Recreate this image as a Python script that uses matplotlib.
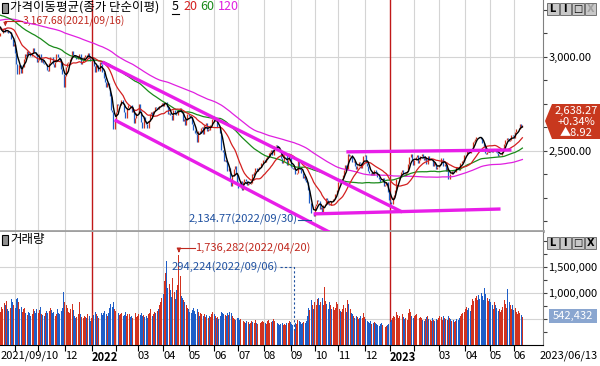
import numpy as np
import pandas as pd
import matplotlib
matplotlib.use('Agg')
import matplotlib.pyplot as plt
from matplotlib.patches import Rectangle, Polygon

plt.rcParams['font.family'] = ['Noto Sans CJK KR', 'DejaVu Sans']

# KRX market holidays in the charted range
holidays = ['2021-09-20', '2021-09-21', '2021-09-22', '2021-10-04', '2021-10-11', '2021-12-31',
            '2022-01-31', '2022-02-01', '2022-02-02', '2022-03-01', '2022-03-09', '2022-05-05',
            '2022-06-01', '2022-06-06', '2022-08-15', '2022-09-09', '2022-09-12', '2022-10-03',
            '2022-10-10', '2022-12-30', '2023-01-23', '2023-01-24', '2023-03-01', '2023-05-01',
            '2023-05-05', '2023-05-29', '2023-06-06']

# closes before the first visible day (moving-average warm-up)
pre_close = [3004, 2996, 2995, 3041, 3036, 3070, 3061,
             3087, 3112, 3120, 3127, 3137, 3143, 3131, 3135, 3169, 3182, 3194, 3198, 3198, 3220, 3171,
             3177, 3186, 3217, 3215, 3181, 3174, 3147,
             3127, 3147, 3178, 3197, 3249, 3209, 3161, 3122, 3153, 3134, 3173, 3162, 3156, 3144, 3163,
             3165, 3165, 3188, 3203,
             3221, 3224, 3247, 3240, 3252, 3247, 3216, 3224, 3249, 3252, 3258, 3278, 3264, 3267, 3240,
             3263, 3276, 3286, 3302, 3301, 3286, 3296,
             3282, 3281, 3293, 3305, 3285, 3252, 3217, 3246, 3271, 3264, 3286, 3276, 3245, 3232, 3216,
             3250, 3254, 3224, 3232, 3236, 3242, 3202,
             3223, 3237, 3280, 3276, 3270, 3260, 3243, 3220, 3208, 3171, 3143, 3158, 3097, 3060, 3090,
             3138, 3146, 3128, 3133, 3144, 3199,
             3207, 3175, 3201, 3203, 3187, 3162, 3114]

close = [
    # 2021-09 .. 2021-12
    3125.76, 3127.86, 3148.83, 3153.40, 3130.09, 3140.51, 3127.58, 3125.24, 3133.64, 3097.92, 3060.27, 3068.82,
    3019.18, 2962.17, 2908.31, 2959.46, 2956.30, 2916.38, 2944.41, 2988.64, 3015.06, 3006.68, 3029.04, 3013.13,
    3007.33, 3006.16, 3020.54, 3049.08, 3025.49, 3009.55, 2970.68,
    2983.22, 3013.49, 2975.71, 2983.29, 2969.27, 2960.20, 2963.00, 2930.17, 2924.92, 2968.80, 2999.52, 2997.21,
    2962.42, 2947.38, 2971.02, 3013.25, 2997.33, 2994.29, 2980.27, 2936.44, 2909.32, 2839.01,
    2899.72, 2945.27, 2968.33, 2973.25, 2991.72, 3001.80, 3029.57, 3010.23, 3001.66, 2987.95, 2989.39, 3006.41,
    3017.73, 2963.00, 2975.03, 2984.48, 2998.32, 3012.43, 2999.55, 3020.24, 2993.29, 2977.65,
    # 2022-01 .. 2022-06
    2988.77, 2989.24, 2953.97, 2920.53, 2954.89, 2926.72, 2927.38, 2972.48, 2962.09, 2921.92, 2890.10, 2864.24,
    2842.28, 2862.68, 2834.29, 2792.00, 2720.39, 2709.24, 2614.49, 2663.34,
    2707.82, 2750.26, 2745.06, 2746.47, 2768.85, 2771.93, 2747.71, 2704.48, 2676.54, 2729.68, 2744.09, 2744.52,
    2743.80, 2706.79, 2719.53, 2648.80, 2676.76, 2699.18,
    2703.52, 2747.08, 2713.43, 2651.31, 2622.40, 2680.32, 2661.28, 2645.65, 2621.53, 2659.23, 2694.51, 2707.02,
    2686.05, 2710.00, 2735.05, 2729.66, 2729.98, 2722.60, 2741.07, 2746.74, 2757.65,
    2739.85, 2757.90, 2759.20, 2735.03, 2695.86, 2700.39, 2693.10, 2666.76, 2716.49, 2716.71, 2696.06, 2693.21,
    2718.69, 2718.89, 2728.21, 2704.71, 2657.13, 2668.31, 2639.06, 2667.49, 2695.05,
    2687.45, 2680.46, 2677.57, 2644.51, 2610.81, 2596.56, 2592.27, 2550.08, 2604.24, 2596.58, 2620.44, 2625.98,
    2592.34, 2639.29, 2647.38, 2605.87, 2617.22, 2612.45, 2638.05, 2669.66, 2685.90,
    2658.99, 2670.65, 2626.15, 2626.34, 2625.44, 2595.87, 2504.51, 2492.97, 2447.38, 2451.41, 2440.93, 2391.03,
    2408.93, 2342.81, 2314.32, 2366.60, 2401.92, 2422.09, 2377.99, 2332.64,
    # 2022-07 .. 2022-12
    2305.42, 2300.34, 2341.78, 2292.01, 2334.27, 2350.61, 2340.27, 2317.76, 2328.61, 2322.32, 2330.98, 2375.25,
    2370.60, 2386.85, 2409.16, 2393.14, 2403.69, 2412.90, 2415.53, 2435.27, 2451.50,
    2452.25, 2439.62, 2461.45, 2473.11, 2490.80, 2493.10, 2503.46, 2480.88, 2523.78, 2527.94, 2533.52, 2516.47,
    2508.05, 2492.69, 2462.50, 2435.34, 2447.45, 2477.26, 2481.03, 2426.89, 2450.93, 2472.05,
    2415.61, 2409.41, 2403.68, 2410.02, 2376.46, 2384.28, 2449.54, 2411.42, 2401.83, 2382.78, 2355.66, 2367.85,
    2347.21, 2332.31, 2290.00, 2220.94, 2223.86, 2169.29, 2170.93, 2155.49,
    2209.38, 2215.22, 2237.86, 2232.84, 2192.07, 2202.47, 2162.87, 2212.55, 2219.71, 2249.95, 2237.44, 2218.09,
    2213.12, 2236.16, 2235.07, 2245.93, 2246.13, 2268.40, 2293.61,
    2335.22, 2336.86, 2329.17, 2348.80, 2371.79, 2399.04, 2424.41, 2402.86, 2483.16, 2474.65, 2480.33, 2477.45,
    2442.90, 2444.48, 2419.50, 2405.27, 2418.01, 2441.33, 2437.86, 2408.27, 2433.39, 2472.53,
    2479.84, 2434.33, 2419.32, 2393.16, 2382.81, 2371.08, 2389.04, 2372.40, 2399.25, 2389.04, 2361.82, 2360.02,
    2352.17, 2333.23, 2332.79, 2356.73, 2313.69, 2317.14, 2332.79, 2280.45, 2236.40,
    # 2023-01 .. 2023-06
    2225.67, 2218.68, 2255.98, 2264.65, 2289.97, 2350.19, 2351.31, 2359.88, 2365.10, 2386.09, 2399.86, 2379.39,
    2368.32, 2380.34, 2395.26, 2428.57, 2468.65, 2484.02, 2450.47, 2425.08,
    2449.80, 2468.88, 2480.40, 2438.19, 2451.71, 2470.65, 2481.52, 2469.49, 2452.70, 2465.64, 2427.90, 2475.48,
    2451.21, 2455.12, 2458.96, 2417.96, 2439.04, 2423.61, 2402.64, 2412.85,
    2424.21, 2432.07, 2462.64, 2463.35, 2419.09, 2431.91, 2394.59, 2410.60, 2348.97, 2379.72, 2377.91, 2395.69,
    2388.35, 2388.71, 2416.96, 2414.96, 2414.14, 2400.51, 2434.05, 2443.85, 2453.16, 2476.86,
    2479.39, 2500.74, 2495.56, 2490.41, 2490.40, 2512.08, 2547.86, 2550.64, 2561.66, 2571.49, 2575.91, 2575.08,
    2571.70, 2563.99, 2544.40, 2523.50, 2489.02, 2484.83, 2495.81, 2501.53,
    2500.94, 2500.65, 2495.81, 2509.06, 2510.06, 2496.81, 2491.00, 2475.42, 2479.35, 2480.24, 2494.66, 2515.42,
    2537.79, 2557.08, 2567.63, 2565.88, 2554.69, 2558.81, 2585.52, 2577.12,
    2569.23, 2601.36, 2615.41, 2615.60, 2615.79, 2641.16, 2629.35, 2638.27,
]

# volume in thousands of shares
volume = [
    640, 730, 700, 810, 760, 850, 690, 650, 720, 880, 830, 760,
    720, 880, 910, 820, 700, 740, 630, 690, 720, 610, 580, 640, 620, 560, 590, 690, 650, 620, 700,
    620, 680, 740, 600, 580, 560, 610, 650, 620, 660, 720, 680, 610, 640, 560, 590, 700, 620, 590, 660, 720, 1010,
    820, 760, 720, 640, 610, 700, 780, 680, 560, 520, 540, 600, 820, 590, 530, 510, 560, 540, 520, 600, 550, 470,
    520, 610, 580, 640, 600, 560, 520, 590, 610, 570, 620, 650, 600, 560, 610, 720, 790, 740, 820, 700,
    660, 650, 610, 570, 600, 620, 560, 580, 640, 560, 600, 590, 540, 560, 520, 680, 620, 540,
    560, 600, 570, 620, 560, 580, 540, 560, 520, 600, 620, 700, 560, 590, 640, 620, 660, 700, 760, 820, 900,
    980, 1240, 1380, 1620, 1100, 1180, 1060, 920, 1290, 1010, 880, 1060, 1150, 1736.282, 1320, 940, 900, 860,
    820, 760, 720,
    700, 640, 620, 680, 720, 660, 600, 700, 640, 560, 620, 590, 560, 600, 540, 580, 520, 560, 540, 600, 640,
    600, 560, 520, 540, 500, 560, 640, 620, 600, 580, 560, 620, 580, 640, 620, 560, 520, 500, 480, 520,
    520, 480, 500, 520, 460, 440, 420, 460, 440, 400, 420, 460, 440, 420, 480, 420, 400, 380, 420, 440, 460,
    440, 420, 400, 460, 480, 420, 440, 460, 500, 470, 440, 420, 400, 380, 400, 420, 390, 410, 380, 430, 420, 460,
    440, 410, 380, 294.224, 420, 400, 480, 460, 440, 400, 420, 450, 420, 460, 560, 720, 680, 860, 760, 700,
    820, 760, 880, 900, 760, 820, 900, 760, 1120, 840, 780, 700, 820, 760, 700, 740, 680, 720, 820,
    780, 700, 660, 640, 700, 760, 720, 640, 860, 780, 700, 620, 600, 560, 520, 560, 540, 500, 520, 560, 520, 620,
    540, 500, 460, 440, 420, 460, 400, 420, 440, 420, 400, 380, 360, 400, 420, 380, 360, 340, 360, 380, 400,
    440, 480, 520, 560, 540, 640, 580, 520, 560, 520, 600, 540, 500, 520, 480, 620, 700, 640, 560, 520,
    560, 580, 600, 620, 520, 540, 520, 480, 460, 500, 540, 560, 500, 480, 460, 520, 480, 460, 500, 480,
    520, 560, 540, 480, 560, 520, 500, 480, 560, 520, 500, 460, 480, 440, 460, 500, 480, 520, 560, 600, 620, 640,
    700, 740, 680, 720, 660, 760, 880, 840, 900, 940, 860, 960, 880, 1000, 940, 860, 1100, 980, 900, 840,
    880, 820, 760, 700, 820, 760, 720, 660, 700, 640, 680, 740, 860, 780, 720, 1080, 820, 760, 700, 760,
    680, 720, 640, 600, 660, 620, 580, 542.432,
]

ma_windows = [5, 20, 60, 120]
ma_colors = ['black', '#d42020', '#1a8a1a', '#e020e0']
high_mark = ('2021-09-16', 3167.68)
low_mark = ('2022-09-30', 2134.77)
trend_lines = [(('2022-01-14', 2973), ('2023-01-16', 2175)),
               (('2022-01-28', 2665), ('2022-10-21', 2068)),
               (('2022-11-10', 2495), ('2023-05-30', 2505)),
               (('2022-09-30', 2165), ('2023-05-16', 2191))]

dates = pd.bdate_range('2021-09-10', '2023-06-13')
dates = dates[~dates.isin(pd.to_datetime(holidays))]
n = len(close)
x = np.arange(n)
close_a = np.array(close)
vol = np.array(volume) * 1000
open_a = np.r_[pre_close[-1], close_a[:-1]]
up = close_a >= open_a
RED, BLUE = '#d2321e', '#1e5ec8'
cols = np.where(up, RED, BLUE)

full = pd.Series(list(pre_close) + close)
mas = [full.rolling(w).mean().values[-n:] for w in ma_windows]

def didx(d):
    return int(np.searchsorted(dates, pd.Timestamp(d)))

W, H = 600, 366
fig = plt.figure(figsize=(6, 3.66), dpi=100)
fig.patch.set_facecolor('white')
def fx(px): return px / W
def fy(py): return 1 - py / H

ax = fig.add_axes([0, fy(231), fx(543), fy(0) - fy(231)])
axv = fig.add_axes([0, fy(345), fx(543), fy(232) - fy(345)])

xl = (-0.4, 447)
month_idx = [i for i in range(1, n) if dates[i].month != dates[i - 1].month]
year_idx = [i for i in month_idx if dates[i].month == 1]

for a in (ax, axv):
    a.set_xlim(*xl)
    for m in month_idx:
        if m in year_idx:
            a.axvline(m, color='#c01818', lw=1.0, zorder=1)
        else:
            a.axvline(m, color='#d4d4d4', lw=0.8, zorder=0)
    a.spines['left'].set_visible(False)
    a.spines['top'].set_visible(False)
    a.spines['right'].set_color('#808080')
    a.yaxis.tick_right()
    a.tick_params(axis='y', direction='out', length=3, width=0.8, color='#404040',
                  labelsize=8, pad=1)

# price panel
ax.set_ylim(2074, 3303)
for g in (2500, 3000):
    ax.axhline(g, color='#d4d4d4', lw=0.8, zorder=0)
pt = np.arange(2125, 3300, 125)
ax.set_yticks(pt)
ax.set_yticklabels([f'{v:,.2f}' if v % 500 == 0 else '' for v in pt])
ax.set_xticks([])
ax.spines['bottom'].set_color('#a0a0a0')
ax.spines['bottom'].set_linewidth(2)

ax.vlines(x, open_a, close_a, colors=cols, lw=0.9, zorder=3)
for ma, c in zip(mas[::-1], ma_colors[::-1]):
    ax.plot(x, ma, color=c, lw=0.9 if c != 'black' else 1.0, zorder=4)
for (d0, p0), (d1, p1) in trend_lines:
    ax.plot([didx(d0), didx(d1)], [p0, p1], color='#e81ee8', lw=2.4,
            solid_capstyle='butt', zorder=5)

# high / low marks
hi_i, hi_v = didx(high_mark[0]), high_mark[1]
hi_lab = 3191
ax.plot([hi_i, hi_i + 14], [hi_lab, hi_lab], color='#c0281e', lw=0.8, zorder=6)
ax.annotate('', xy=(hi_i, hi_v - 4), xytext=(hi_i, hi_lab),
            arrowprops=dict(arrowstyle='-|>', color='#c0281e', lw=0.8, mutation_scale=5))
ax.text(hi_i + 14.5, hi_lab, f'{hi_v:,.2f}({high_mark[0].replace("-", "/")})', color='#c0281e',
        fontsize=7.5, va='center', ha='left')
lo_i, lo_v = didx(low_mark[0]), low_mark[1]
ax.plot([lo_i - 13, lo_i - 2], [lo_v, lo_v], color='#1e50a0', lw=0.8, zorder=6)
ax.text(lo_i - 13.5, lo_v, f'{lo_v:,.2f}({low_mark[0].replace("-", "/")})', color='#1e50a0',
        fontsize=8, va='center', ha='right')

# volume panel
axv.set_ylim(0, 2173000)
for g in (500000, 1000000, 1500000):
    axv.axhline(g, color='#d4d4d4', lw=0.8, zorder=0)
vt = np.arange(250000, 2173000, 250000)
axv.set_yticks(vt)
axv.set_yticklabels([f'{v:,}' if v in (1000000, 1500000) else '' for v in vt])
axv.bar(x, vol, width=0.8, color=cols, linewidth=0, zorder=3)
axv.spines['bottom'].set_color('black')

vmax_i = int(np.argmax(vol)); vmin_i = int(np.argmin(vol))
axv.plot([vmax_i, vmax_i + 13], [1865000, 1865000], color='#c0281e', lw=0.8, zorder=6)
axv.annotate('', xy=(vmax_i, vol[vmax_i] + 40000), xytext=(vmax_i, 1865000),
             arrowprops=dict(arrowstyle='-|>', color='#c0281e', lw=0.8, mutation_scale=6))
axv.text(vmax_i + 13.5, 1865000, f'{int(vol[vmax_i]):,}({dates[vmax_i]:%Y/%m/%d})',
         color='#c0281e', fontsize=8, va='center', ha='left')
axv.plot([vmin_i - 12, vmin_i, vmin_i], [1500000, 1500000, vol[vmin_i]], color='#1e50a0',
         lw=0.8, ls=(0, (2, 2)), zorder=6)
axv.text(vmin_i - 13, 1500000, f'{int(vol[vmin_i]):,}({dates[vmin_i]:%Y/%m/%d})',
         color='#1e50a0', fontsize=8, va='center', ha='right')

# x axis labels
lab = []
for m in month_idx:
    d = dates[m]
    if d.month == 1:
        lab.append(str(d.year))
    elif d.month == 2 or (d.year == 2021 and d.month in (10, 11)):
        lab.append('')
    else:
        lab.append(f'{d.month:02d}')
axv.set_xticks(month_idx)
axv.set_xticklabels(lab, fontsize=8)
for t, m in zip(axv.get_xticklabels(), month_idx):
    t.set_ha('left')
    if dates[m].month == 1:
        t.set_fontweight('bold')
axv.tick_params(axis='x', direction='out', length=4, width=0.8, pad=0)
fig.text(fx(1), fy(356), f'{dates[0]:%Y/%m/%d}', fontsize=8, ha='left', va='center')
fig.text(fx(598), fy(356), f'{dates[-1]:%Y/%m/%d}', fontsize=8, ha='right', va='center')

# panel titles
for yy in (8, 240):
    fig.patches.append(Rectangle((fx(2), fy(yy + 5)), fx(6), fy(yy - 5) - fy(yy + 5),
                                 transform=fig.transFigure, facecolor='#909090',
                                 edgecolor='black', lw=0.8))
fig.text(fx(10), fy(7), '가격이동평균(종가 단순이평)', fontsize=9, ha='left', va='center')
fig.text(fx(172), fy(7), '5', fontsize=9, ha='left', va='center', color='black')
fig.lines.append(plt.Line2D([fx(172), fx(179)], [fy(14), fy(14)], transform=fig.transFigure,
                            color='black', lw=0.8))
fig.text(fx(183), fy(7), '20', fontsize=9, ha='left', va='center', color='#d42020')
fig.text(fx(200), fy(7), '60', fontsize=9, ha='left', va='center', color='#1a8a1a')
fig.text(fx(218), fy(7), '120', fontsize=9, ha='left', va='center', color='#e020e0')
fig.text(fx(10), fy(240), '거래량', fontsize=9, ha='left', va='center')

# window buttons
for yy, last_on in ((3, False), (237, True)):
    for k, g in enumerate(['L', 'I', '□', 'X']):
        on = last_on or k < 3
        fig.patches.append(Rectangle((fx(547 + k * 12.5), fy(yy + 12)), fx(11.5), fy(yy) - fy(yy + 12),
                                     transform=fig.transFigure, facecolor='#c8c8c8',
                                     edgecolor='#606060', lw=0.6))
        fig.text(fx(547 + k * 12.5 + 5.75), fy(yy + 6), g, fontsize=7, ha='center', va='center',
                 color='black' if on else '#a0a0a0', fontweight='bold', family='DejaVu Sans')

# last price / volume badges
chg = close[-1] - close[-2]
fig.patches.append(Polygon([(fx(545), fy(121)), (fx(552), fy(104)), (fx(600), fy(104)),
                            (fx(600), fy(139)), (fx(552), fy(139))], closed=True,
                           transform=fig.transFigure, facecolor='#c8381e', edgecolor='none'))
fig.text(fx(576), fy(111), f'{close[-1]:,.2f}', fontsize=8, color='white', ha='center', va='center')
fig.text(fx(576), fy(122), f'+{chg / close[-2] * 100:.2f}%', fontsize=8, color='white',
         ha='center', va='center')
fig.text(fx(576), fy(133), f'▲{chg:.2f}', fontsize=8, color='white', ha='center', va='center')
fig.patches.append(Rectangle((fx(549), fy(323)), fx(48), fy(309) - fy(323), transform=fig.transFigure,
                             facecolor='#8aa6d0', edgecolor='none'))
fig.text(fx(573), fy(316), f'{int(vol[-1]):,}', fontsize=8, color='white', ha='center', va='center')

fig.savefig('out.png', dpi=100)
